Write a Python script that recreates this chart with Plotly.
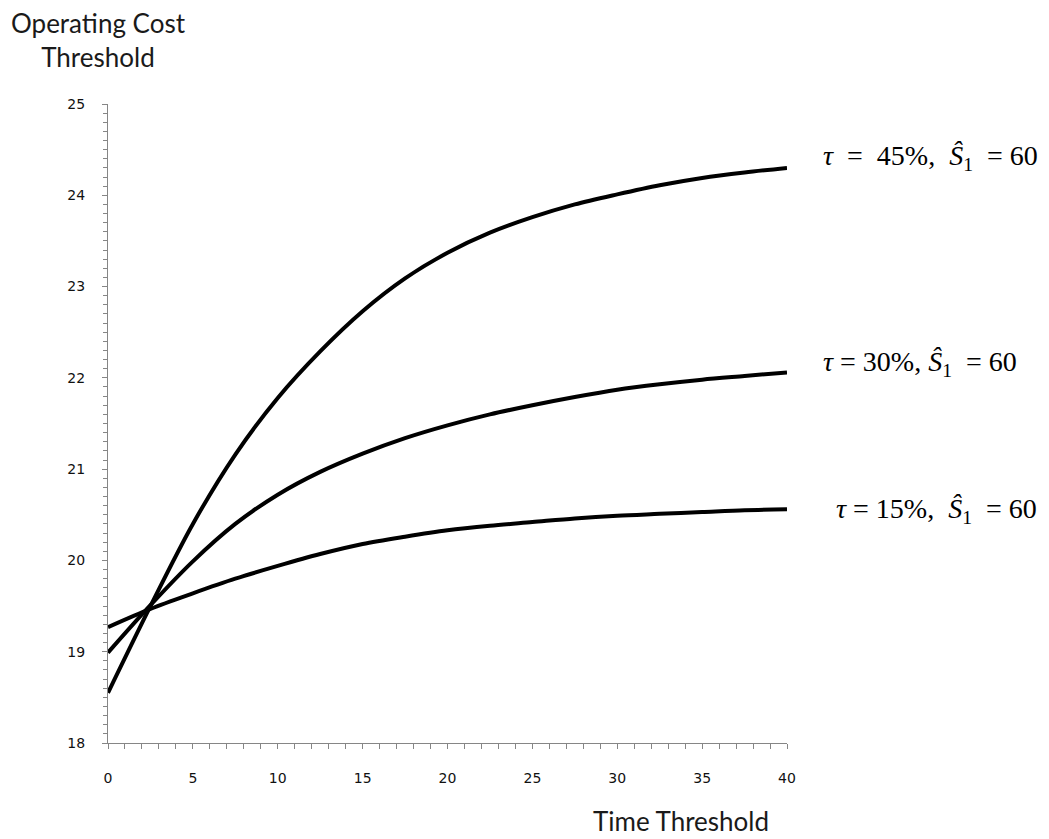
import plotly.graph_objects as go

x_vals = [0, 2.5, 5, 7.5, 10, 12.5, 15, 17.5, 20, 22.5, 25, 27.5, 30, 32.5, 35, 37.5, 40]
tau45 = [18.55, 19.50, 20.40, 21.16, 21.78, 22.29, 22.73, 23.09, 23.37, 23.59, 23.76, 23.90, 24.01, 24.11, 24.19, 24.25, 24.30]
tau30 = [18.99, 19.51, 19.99, 20.40, 20.72, 20.97, 21.17, 21.34, 21.48, 21.60, 21.70, 21.79, 21.87, 21.93, 21.98, 22.02, 22.06]
tau15 = [19.27, 19.47, 19.64, 19.80, 19.94, 20.07, 20.18, 20.26, 20.33, 20.38, 20.42, 20.46, 20.49, 20.51, 20.53, 20.55, 20.56]

series = [("45%", tau45), ("30%", tau30), ("15%", tau15)]
NB = "\u00a0"
labels = {
    "45%": f"<i>τ</i>{NB}{NB}={NB}{NB}45%,{NB}{NB}<i>Ŝ</i><sub>1</sub>{NB}{NB}={NB}60",
    "30%": f"<i>τ</i>{NB}={NB}30%,{NB}<i>Ŝ</i><sub>1</sub>{NB}{NB}={NB}60",
    "15%": f"<i>τ</i>{NB}={NB}15%,{NB}{NB}<i>Ŝ</i><sub>1</sub>{NB}{NB}={NB}60",
}
label_pos = {"45%": (822, 157), "30%": (822, 363), "15%": (835, 510)}

# plot area in page pixels (page body adds an 8px offset)
X0, X1, YB, YT = 108, 787, 743, 104
def px2paper(px, py):
    return (px - X0) / (X1 - X0), (YB - py) / (YB - YT)

fig = go.Figure()
for name, ys in series:
    fig.add_trace(go.Scatter(x=x_vals, y=ys, mode="lines", name=name,
                             line=dict(color="black", width=4, shape="spline", smoothing=0.9),
                             showlegend=False))

for name, ys in series:
    xp, yp = px2paper(*label_pos[name])
    fig.add_annotation(x=xp, y=yp, xref="paper", yref="paper",
                       xanchor="left", yanchor="middle", showarrow=False,
                       text=labels[name], borderpad=0,
                       font=dict(family="Liberation Serif, Times New Roman, serif", size=28, color="black"))

xp, yp = px2paper(98, 40)
fig.add_annotation(x=xp, y=yp, xref="paper", yref="paper",
                   xanchor="center", yanchor="middle", showarrow=False, align="center",
                   text="Operating Cost<br>Threshold", borderpad=0,
                   font=dict(family="Lato, Open Sans, sans-serif", size=26, color="#1a1a1a"))
xp, yp = px2paper(681, 821)
fig.add_annotation(x=xp, y=yp, xref="paper", yref="paper",
                   xanchor="center", yanchor="middle", showarrow=False, borderpad=0,
                   text="Time Threshold",
                   font=dict(family="Lato, Open Sans, sans-serif", size=26, color="#1a1a1a"))

axis_color = "#868686"
W, H = 1049, 839
fig.update_layout(
    width=W, height=H,
    margin=dict(l=100, r=W - 100 - (X1 - X0), t=96, b=H - 96 - (YB - YT)),
    paper_bgcolor="white", plot_bgcolor="white",
    xaxis=dict(range=[0, 40], tickvals=[0, 5, 10, 15, 20, 25, 30, 35, 40],
               showgrid=False, zeroline=False, showline=True, linecolor=axis_color, linewidth=1,
               ticks="outside", ticklen=5, tickcolor=axis_color,
               minor=dict(dtick=1, ticks="outside", ticklen=5, tickcolor=axis_color, showgrid=False),
               tickfont=dict(family="DejaVu Sans, Verdana, sans-serif", size=14, color="#111"),
               ticklabelstandoff=17),
    yaxis=dict(range=[18, 25], tickvals=[18, 19, 20, 21, 22, 23, 24, 25],
               showgrid=False, zeroline=False, showline=True, linecolor=axis_color, linewidth=1,
               ticks="outside", ticklen=5, tickcolor=axis_color,
               minor=dict(dtick=0.1, ticks="outside", ticklen=4, tickcolor=axis_color, showgrid=False),
               tickfont=dict(family="DejaVu Sans, Verdana, sans-serif", size=14, color="#111"),
               ticklabelstandoff=14),
)

fig.write_html("out.html")
